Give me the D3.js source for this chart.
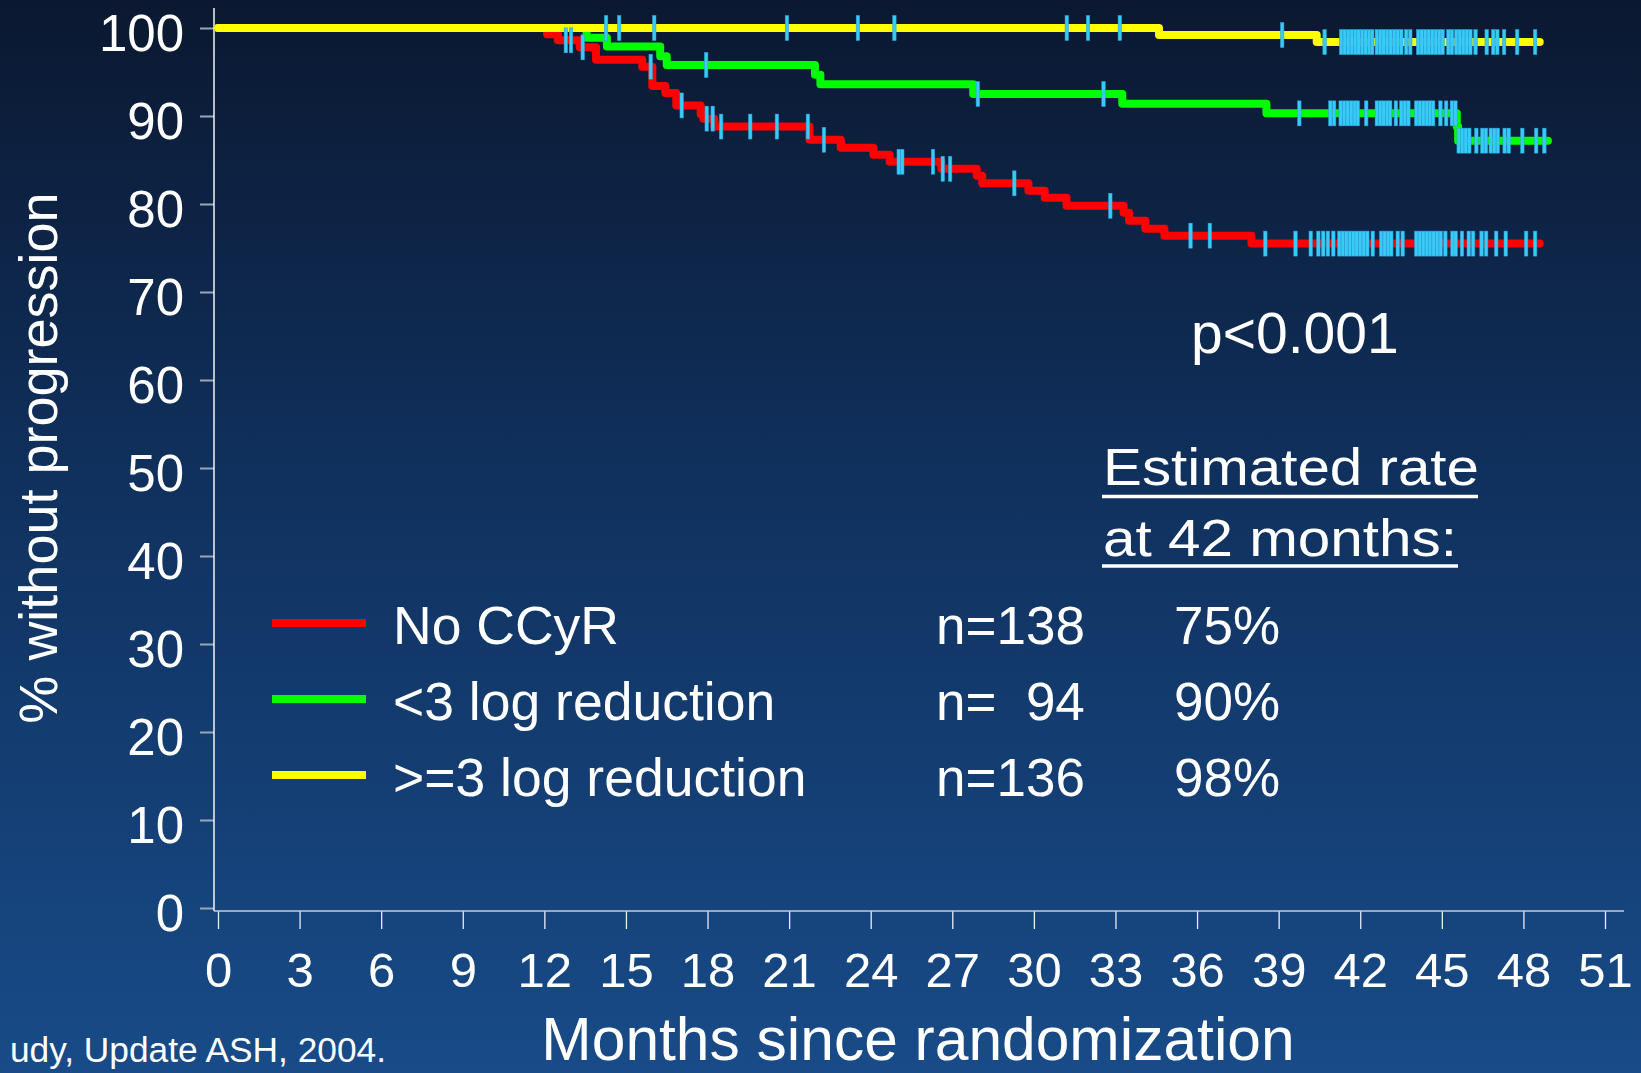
<!DOCTYPE html>
<html><head><meta charset="utf-8">
<script src="https://cdn.jsdelivr.net/npm/d3@7/dist/d3.min.js"></script>
<style>
html,body{margin:0;padding:0;background:#0f2b55;overflow:hidden}
svg{display:block}
text{font-family:"Liberation Sans",Arial,Helvetica,sans-serif;fill:#ffffff}
</style></head><body>
<svg id="chart" width="1641" height="1073"></svg>
<script>
// ---------- data ----------
const xTickValues = [0,3,6,9,12,15,18,21,24,27,30,33,36,39,42,45,48,51];
const yTickValues = [0,10,20,30,40,50,60,70,80,90,100];
const seriesNames = ["No CCyR", "<3 log reduction", ">=3 log reduction"];
const seriesN = ["n=138", "n=  94", "n=136"];
const seriesRate = ["75%", "90%", "98%"];
const seriesColors = ["#ff0000", "#00ff00", "#ffff00"];

// No CCyR (red) step function: month -> % without progression
const redTimes = [0, 12.1, 12.5, 13.3, 13.9, 15.6, 15.97, 16.45, 16.85, 17.75, 17.85, 18.25, 21.75, 22.9, 24.1, 24.7, 26.6, 27.9, 28.1, 29.8, 30.4, 31.2, 33.3, 33.5, 34.1, 34.8, 38.0, 48.6];
const redSurv  = [100, 99.3, 98.6, 97.8, 96.4, 95.6, 93.4, 92.6, 91.2, 90.2, 89.7, 88.8, 87.3, 86.4, 85.6, 84.8, 84.0, 83.2, 82.35, 81.5, 80.7, 79.8, 79.0, 78.1, 77.2, 76.4, 75.5, 75.5];
const redCensor = [12.79, 12.98, 13.41, 15.91, 17.05, 17.97, 18.19, 18.5, 19.57, 20.55, 21.69, 22.28, 25.03, 25.16, 26.29, 26.65, 26.92, 29.28, 32.81, 35.76, 36.47, 38.51, 39.62, 40.18, 40.46, 40.64, 40.81, 41.01, 41.23, 41.36, 41.49, 41.62, 41.75, 41.87, 42.0, 42.13, 42.26, 42.46, 42.77, 42.9, 43.03, 43.14, 43.38, 43.56, 44.06, 44.19, 44.32, 44.45, 44.57, 44.7, 44.83, 44.96, 45.13, 45.39, 45.51, 45.74, 45.99, 46.15, 46.46, 46.63, 47.0, 47.35, 48.1, 48.43];

// <3 log reduction (green)
const greenTimes = [0, 13.55, 14.3, 16.26, 16.5, 21.95, 22.15, 27.77, 33.25, 38.55, 45.55, 45.6, 48.9];
const greenSurv  = [100, 98.9, 97.9, 96.8, 95.8, 94.7, 93.6, 92.5, 91.4, 90.3, 88.8, 87.2, 87.2];
const greenCensor = [17.95, 27.94, 32.56, 39.76, 40.9, 41.04, 41.28, 41.41, 41.54, 41.67, 41.8, 41.91, 42.22, 42.61, 42.74, 42.86, 42.99, 43.1, 43.31, 43.51, 43.64, 43.77, 44.06, 44.19, 44.32, 44.45, 44.57, 44.68, 44.95, 45.16, 45.37, 45.5, 45.62, 45.75, 45.88, 46.01, 46.27, 46.49, 46.62, 46.8, 46.93, 47.06, 47.31, 47.46, 47.96, 48.47, 48.77];

// >=3 log reduction (yellow)
const yellowTimes = [0, 34.6, 40.4, 48.6];
const yellowSurv  = [100, 99.2, 98.4, 98.4];
const yellowCensor = [14.27, 14.75, 16.04, 20.92, 23.53, 24.87, 31.21, 31.99, 33.16, 39.13, 40.69, 41.3, 41.43, 41.56, 41.69, 41.82, 41.94, 42.07, 42.2, 42.33, 42.44, 42.61, 42.74, 42.86, 42.99, 43.12, 43.25, 43.38, 43.51, 43.69, 43.84, 44.13, 44.26, 44.39, 44.52, 44.65, 44.78, 44.91, 45.03, 45.24, 45.37, 45.53, 45.66, 45.79, 45.92, 46.05, 46.24, 46.65, 46.89, 47.04, 47.29, 47.77, 48.43];

// ---------- layout ----------
const W = 1641, H = 1073;
const svg = d3.select("#chart");
const defs = svg.append("defs");
const grad = defs.append("linearGradient").attr("id","bg").attr("x1",0).attr("y1",0).attr("x2",0).attr("y2",1);
grad.append("stop").attr("offset","0%").attr("stop-color","#0b1830");
grad.append("stop").attr("offset","45%").attr("stop-color","#10315e");
grad.append("stop").attr("offset","100%").attr("stop-color","#184b88");
svg.append("rect").attr("width",W).attr("height",H).attr("fill","url(#bg)");

const x = d3.scaleLinear().domain([0,51]).range([218,1605]);
const y = d3.scaleLinear().domain([0,100]).range([908,28]);
const axisX0 = 214, axisY0 = 911;

// axes
const yAxis = d3.axisLeft(y).tickValues(yTickValues).tickSize(14).tickPadding(16).tickSizeOuter(0);
const gy = svg.append("g").attr("transform",`translate(${axisX0},0)`).call(yAxis);
gy.select(".domain").remove();
gy.selectAll(".tick line").attr("stroke","#9aa6b8").attr("stroke-width",2);
gy.selectAll(".tick text").attr("dy",22).style("font-size","51px").attr("fill","#fff");

const xAxis = d3.axisBottom(x).tickValues(xTickValues).tickSize(18).tickSizeOuter(0);
const gx = svg.append("g").attr("transform",`translate(0,${axisY0})`).call(xAxis);
gx.select(".domain").remove();
gx.selectAll(".tick line").attr("stroke","#e8eef6").attr("stroke-width",1.3);
gx.selectAll(".tick text").attr("y",76).attr("dy",0).style("font-size","49px").attr("fill","#fff");

svg.append("line").attr("x1",axisX0).attr("x2",axisX0).attr("y1",8).attr("y2",axisY0)
  .attr("stroke","#f2f4f8").attr("stroke-width",1.5);
svg.append("line").attr("x1",axisX0).attr("x2",1624).attr("y1",axisY0).attr("y2",axisY0)
  .attr("stroke","#c4ccd8").attr("stroke-width",1.5);

// curves
const series = [
  {times: redTimes, surv: redSurv, censor: redCensor, color: seriesColors[0]},
  {times: greenTimes, surv: greenSurv, censor: greenCensor, color: seriesColors[1]},
  {times: yellowTimes, surv: yellowSurv, censor: yellowCensor, color: seriesColors[2]}
];
const line = d3.line().x(d => x(d[0])).y(d => y(d[1])).curve(d3.curveStepAfter);
series.forEach(s => {
  svg.append("path").datum(s.times.map((t,i) => [t, s.surv[i]]))
    .attr("d", line).attr("fill","none").attr("stroke", s.color)
    .attr("stroke-width", 8).attr("stroke-linejoin","round").attr("stroke-linecap","round");
});
function survAt(s, t) {
  const i = Math.max(0, d3.bisectRight(s.times, t) - 1);
  return s.surv[i];
}
series.forEach(s => {
  svg.append("g").selectAll("rect").data(s.censor).join("rect")
    .attr("x", d => x(d) - 1.75).attr("width", 3.5)
    .attr("y", d => y(survAt(s, d)) - 12.5).attr("height", 25)
    .attr("fill", "#38cbf7").attr("stroke","#2a9fd6").attr("stroke-width",0.5);
});

// legend
const legendY = [623, 699, 775];
const leg = svg.append("g");
seriesNames.forEach((name, i) => {
  leg.append("line").attr("x1",272).attr("x2",366).attr("y1",legendY[i]).attr("y2",legendY[i])
    .attr("stroke", seriesColors[i]).attr("stroke-width", 8);
  leg.append("text").attr("x",393).attr("y",legendY[i]+21).style("font-size","53.5px").text(name);
  leg.append("text").attr("x",936).attr("y",legendY[i]+21).style("font-size","53px")
    .style("white-space","pre").attr("xml:space","preserve").text(seriesN[i]);
  leg.append("text").attr("x",1174).attr("y",legendY[i]+21).style("font-size","53px").text(seriesRate[i]);
});

// annotations
const t1 = svg.append("text").attr("x",1103).attr("y",485).style("font-size","52px")
  .attr("textLength",376).attr("lengthAdjust","spacingAndGlyphs").text("Estimated rate");
const t2 = svg.append("text").attr("x",1103).attr("y",556).style("font-size","52px")
  .attr("textLength",354).attr("lengthAdjust","spacingAndGlyphs").text("at 42 months:");
[[t1,496.5,376],[t2,566,356]].forEach(([t,uy,len]) => {
  svg.append("line").attr("x1",1102).attr("x2",1102+len).attr("y1",uy).attr("y2",uy)
    .attr("stroke","#fff").attr("stroke-width",3.5);
});
svg.append("text").attr("x",1191).attr("y",353).style("font-size","57px").text("p<0.001");

// axis titles
svg.append("text").attr("transform","translate(57,458) rotate(-90)").attr("text-anchor","middle")
  .style("font-size","54px").text("% without progression");
svg.append("text").attr("x",918).attr("y",1060).attr("text-anchor","middle")
  .style("font-size","60.5px").text("Months since randomization");
svg.append("text").attr("x",386).attr("y",1062).attr("text-anchor","end")
  .style("font-size","35.3px").text("udy, Update ASH, 2004.");
</script>
</body></html>
